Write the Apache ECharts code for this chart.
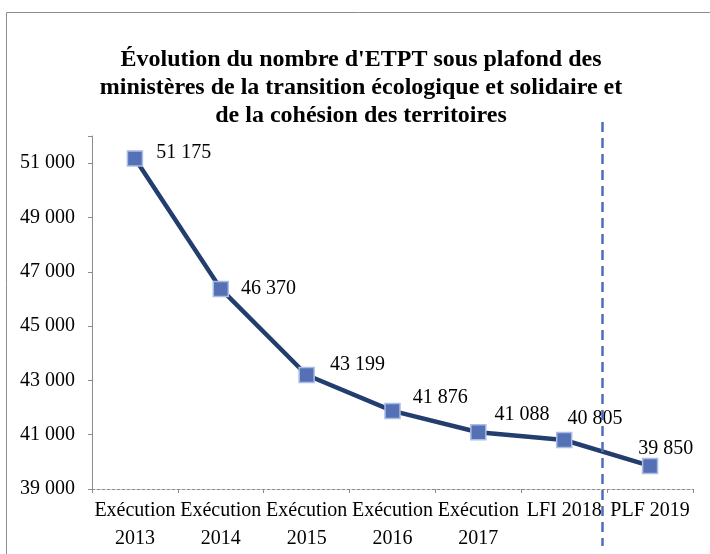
<!DOCTYPE html>
<html>
<head>
<meta charset="utf-8">
<script src="https://cdn.jsdelivr.net/npm/echarts@6/dist/echarts.min.js"></script>
<style>
  html, body { margin: 0; padding: 0; background: #fff; }
  #main { width: 710px; height: 554px; }
</style>
</head>
<body>
<div id="main"></div>
<script>
// data
var categories = ['Exécution\n2013', 'Exécution\n2014', 'Exécution\n2015', 'Exécution\n2016', 'Exécution\n2017', 'LFI 2018', 'PLF 2019'];
var etpt = [51175, 46370, 43199, 41876, 41088, 40805, 39850];
var yTicks = [39000, 41000, 43000, 45000, 47000, 49000, 51000];

var titleText = "Évolution du nombre d'ETPT sous plafond des\nministères de la transition écologique et solidaire et\nde la cohésion des territoires";

// label nudges so they sit like the original (dx, dy)
var labelShift = [[7, -6], [6, 0], [9, -10], [6, -13], [2, -18], [-11, -21], [-26, -17]];

function fmt(v) {
  return String(v).replace(/\B(?=(\d{3})+(?!\d))/g, ' ');
}

var font = '"Liberation Serif", "Times New Roman", serif';
var myChart = echarts.init(document.getElementById('main'));

var points = etpt.map(function (v, i) {
  return {
    value: v,
    label: { offset: labelShift[i] }
  };
});

option = {
  animation: false,
  title: {
    text: titleText,
    left: 356,
    top: 41,
    textAlign: 'center',
    textStyle: {
      fontFamily: font,
      fontWeight: 'bold',
      fontSize: 24,
      lineHeight: 28,
      color: '#000'
    }
  },
  grid: { left: 92, right: 17, top: 136, bottom: 65 },
  xAxis: {
    type: 'category',
    data: categories,
    boundaryGap: true,
    axisLine: { lineStyle: { color: '#8c8c8c', type: [3, 2], width: 1 } },
    axisTick: { show: true, length: 4, lineStyle: { color: '#8c8c8c' } },
    axisLabel: {
      interval: 0,
      margin: 8,
      fontFamily: font,
      fontSize: 20,
      lineHeight: 28,
      color: '#000'
    }
  },
  yAxis: {
    type: 'value',
    min: 39000,
    max: 52000,
    interval: 2000,
    axisLine: { show: true, lineStyle: { color: '#8c8c8c' } },
    axisTick: { show: true, length: 4, lineStyle: { color: '#8c8c8c' } },
    splitLine: { show: false },
    axisLabel: {
      margin: 17,
      fontFamily: font,
      fontSize: 20,
      color: '#000',
      formatter: function (v) {
        return yTicks.indexOf(v) >= 0 ? fmt(v) : '';
      }
    }
  },
  series: [
    {
      name: 'ETPT',
      type: 'line',
      data: points,
      symbol: 'rect',
      symbolSize: 15,
      lineStyle: { color: '#233e6e', width: 4.5 },
      itemStyle: { color: '#5670b5', borderColor: '#a9bde6', borderWidth: 1.5 },
      label: {
        show: true,
        position: 'right',
        distance: 6,
        fontFamily: font,
        fontSize: 20,
        color: '#000',
        formatter: function (p) { return fmt(p.value); }
      },
      z: 3
    }
  ]
};
myChart.setOption(option);

// dashed separator between LFI 2018 and PLF 2019, plus outer frame
var xa = myChart.convertToPixel({ xAxisIndex: 0 }, 5);
var xb = myChart.convertToPixel({ xAxisIndex: 0 }, 6);
var sepX = Math.round((xa + xb) / 2) - 5 + 0.5;
myChart.setOption({
  graphic: [
    {
      type: 'rect',
      shape: { x: 6.5, y: 12.5, width: 720, height: 560 },
      style: { fill: null, stroke: '#8c8c8c', lineWidth: 1 },
      silent: true
    },
    {
      type: 'line',
      shape: { x1: sepX, y1: 122, x2: sepX, y2: 546 },
      style: { stroke: '#4f6db8', lineWidth: 2.5, lineDash: [10, 6] },
      silent: true,
      z: 10
    }
  ]
});
</script>
</body>
</html>
